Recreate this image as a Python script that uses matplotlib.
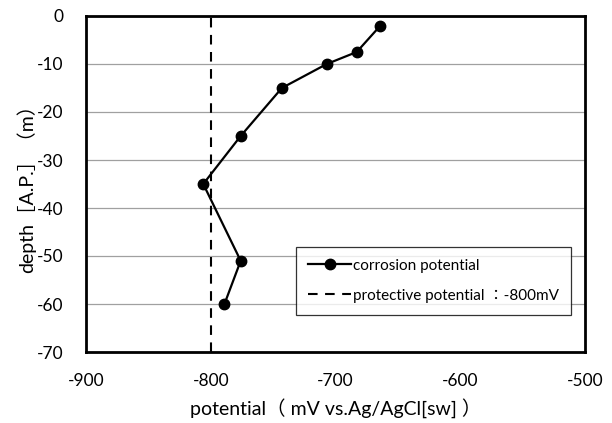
import matplotlib
matplotlib.use("Agg")
import matplotlib.pyplot as plt

potential = [-664, -683, -707, -743, -776, -806, -776, -789]
depth = [-2, -7.5, -10, -15, -25, -35, -51, -60]
protective = -800
xticks = [-900, -800, -700, -600, -500]
yticks = [0, -10, -20, -30, -40, -50, -60, -70]

plt.rcParams['font.family'] = ['Lato', 'Noto Sans CJK JP', 'DejaVu Sans']
plt.rcParams['axes.unicode_minus'] = False

fig = plt.figure(figsize=(6.12, 4.23), dpi=100)
ax = fig.add_axes([86/612, 1-352/423, (585-86)/612, (352-16)/423])

ax.plot(potential, depth, color='black', lw=1.6, marker='o', ms=7.5,
        label='corrosion potential', zorder=3)
ax.axvline(protective, color='black', lw=1.5, ls=(0, (4.6, 3.6)),
           label='protective potential \uff1a-800mV', zorder=3)

ax.set_xlim(-900, -500)
ax.set_ylim(-70, 0)
ax.set_xticks(xticks)
ax.set_yticks(yticks)
ax.yaxis.grid(True, color='#a0a0a0', lw=0.9)
ax.set_axisbelow(True)
for s in ax.spines.values():
    s.set_linewidth(2)
ax.tick_params(length=0, labelsize=12.5)
ax.tick_params(axis='x', pad=15)
ax.tick_params(axis='y', pad=16)

ax.set_xlabel('potential\uff08 mV vs.Ag/AgCl[sw] \uff09', fontsize=14, labelpad=7)
ax.set_ylabel('depth\uff3bA.P.\uff3d\uff08m\uff09', fontsize=14, labelpad=1)

leg = ax.legend(loc='lower right', bbox_to_anchor=(571/612, 1-315/423),
                bbox_transform=fig.transFigure, frameon=True, fancybox=False,
                edgecolor='black', fontsize=11, handlelength=2.8,
                handletextpad=0.1, labelspacing=1.05, borderpad=0.8,
                borderaxespad=0)
leg.get_frame().set_linewidth(0.9)

fig.savefig('out.png', dpi=100)
